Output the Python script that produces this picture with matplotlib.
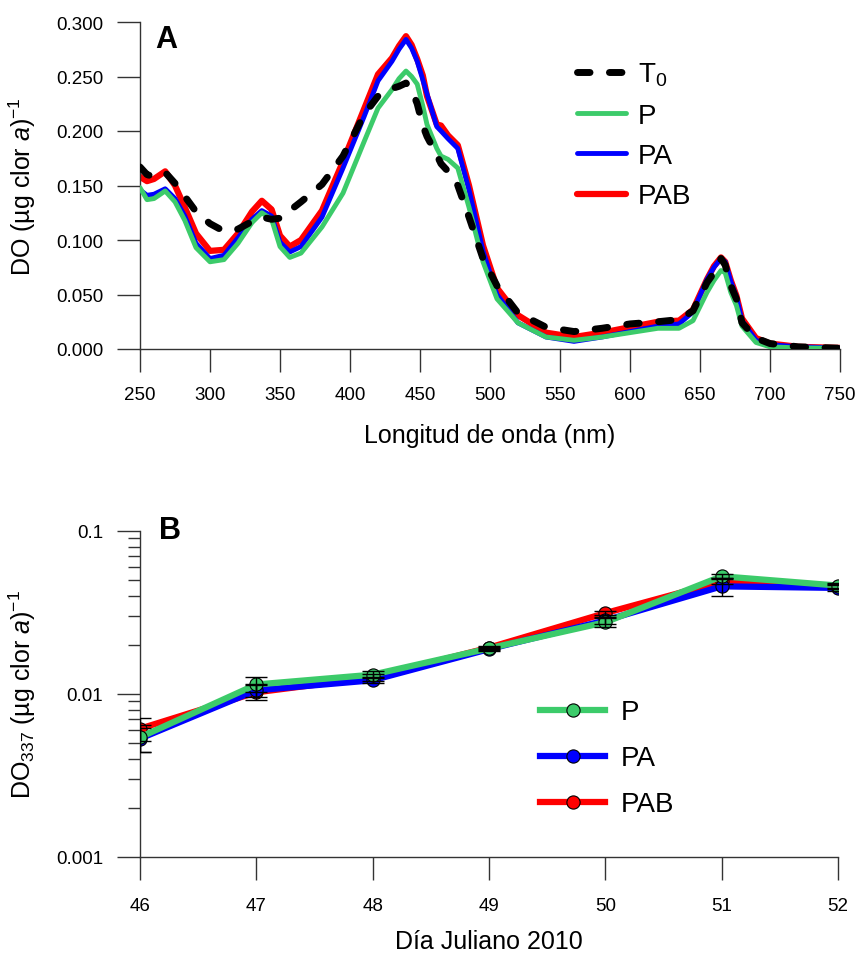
import matplotlib
matplotlib.use('Agg')
import matplotlib.pyplot as plt
from matplotlib.ticker import FixedLocator, LogLocator, NullFormatter

plt.rcParams['font.family'] = ['Liberation Sans', 'DejaVu Sans']
plt.rcParams['mathtext.fontset'] = 'custom'
plt.rcParams['mathtext.rm'] = 'Liberation Sans'
plt.rcParams['mathtext.it'] = 'Liberation Sans:italic'

# Panel A: espectros de absorcion normalizados por clorofila a
wl = [250, 255, 260, 268, 275, 282, 290, 300, 310, 320, 330, 337, 344, 350, 357,
      365, 380, 395, 410, 420, 430, 435, 440, 444, 448, 452, 455, 462, 465, 470, 477,
      485, 495, 505, 520, 540, 560, 580, 600, 620, 635, 645, 655, 660, 665, 668, 672,
      676, 680, 690, 700, 720, 750]

do_t0 = [0.167, 0.160, 0.158, 0.162, 0.152, 0.140, 0.126, 0.115, 0.108, 0.110, 0.117,
         0.121, 0.119, 0.120, 0.127, 0.135, 0.151, 0.177, 0.215, 0.232, 0.239, 0.241,
         0.244, 0.238, 0.225, 0.205, 0.195, 0.178, 0.170, 0.163, 0.150, 0.121, 0.083,
         0.058, 0.033, 0.020, 0.016, 0.019, 0.023, 0.025, 0.027, 0.035, 0.061, 0.070,
         0.083, 0.077, 0.058, 0.046, 0.024, 0.010, 0.005, 0.002, 0.0007]
do_p = [0.148, 0.137, 0.138, 0.145, 0.135, 0.118, 0.093, 0.080, 0.082, 0.097, 0.116,
        0.125, 0.119, 0.094, 0.084, 0.088, 0.112, 0.143, 0.190, 0.221, 0.238, 0.248,
        0.255, 0.250, 0.243, 0.223, 0.206, 0.184, 0.177, 0.174, 0.166, 0.130, 0.080,
        0.046, 0.024, 0.011, 0.008, 0.011, 0.015, 0.019, 0.019, 0.026, 0.052, 0.063,
        0.072, 0.070, 0.052, 0.040, 0.021, 0.006, 0.002, 0.001, 0.0007]
do_pa = [0.146, 0.141, 0.142, 0.147, 0.138, 0.122, 0.097, 0.083, 0.086, 0.102, 0.119,
         0.127, 0.122, 0.098, 0.089, 0.094, 0.121, 0.166, 0.213, 0.246, 0.264, 0.275,
         0.284, 0.276, 0.264, 0.247, 0.234, 0.204, 0.200, 0.193, 0.184, 0.146, 0.090,
         0.050, 0.024, 0.011, 0.007, 0.011, 0.016, 0.021, 0.023, 0.034, 0.064, 0.075,
         0.083, 0.080, 0.062, 0.048, 0.026, 0.008, 0.004, 0.002, 0.001]
do_pab = [0.158, 0.154, 0.156, 0.163, 0.150, 0.130, 0.106, 0.090, 0.091, 0.106, 0.126,
          0.136, 0.128, 0.104, 0.094, 0.100, 0.127, 0.172, 0.220, 0.252, 0.267, 0.278,
          0.287, 0.279, 0.266, 0.251, 0.232, 0.206, 0.205, 0.196, 0.187, 0.150, 0.095,
          0.056, 0.031, 0.015, 0.011, 0.015, 0.020, 0.025, 0.026, 0.036, 0.064, 0.076,
          0.084, 0.080, 0.063, 0.049, 0.028, 0.010, 0.005, 0.002, 0.001]

# Panel B: DO337 a lo largo del experimento
dias = [46, 47, 48, 49, 50, 51, 52]
b_p = [0.0054, 0.0114, 0.0131, 0.0190, 0.0275, 0.0527, 0.0462]
b_p_err = [0.0010, 0.0012, 0.0006, 0.0004, 0.0018, 0.0015, 0.0015]
b_pa = [0.0053, 0.0105, 0.0121, 0.0188, 0.0282, 0.0457, 0.0447]
b_pa_err = [0.0009, 0.0010, 0.0005, 0.0004, 0.0015, 0.0057, 0.0020]
b_pab = [0.0061, 0.0102, 0.0126, 0.0192, 0.0313, 0.0490, 0.0455]
b_pab_err = [0.0010, 0.0011, 0.0006, 0.0004, 0.0010, 0.0020, 0.0015]

verde = '#3ccb6a'
azul = '#0000ff'
rojo = '#ff0000'
gris = '#333333'

fig = plt.figure(figsize=(8.58, 9.62), dpi=100)
axA = fig.add_axes([140 / 858, 1 - 350 / 962, 700 / 858, 327 / 962])
axB = fig.add_axes([140 / 858, 1 - 857.5 / 962, 698 / 858, 325.5 / 962])


def estilo(ax):
    for s in ['top', 'right']:
        ax.spines[s].set_visible(False)
    for s in ['left', 'bottom']:
        ax.spines[s].set_color(gris)
        ax.spines[s].set_linewidth(1.0)
    ax.tick_params(which='major', direction='out', length=16.5, width=1.0,
                   color=gris, labelsize=13.5, pad=10)
    ax.tick_params(which='minor', direction='out', length=8.5, width=1.0, color=gris)


# ---- A ----
axA.plot(wl, do_pab, color=rojo, lw=4.5, solid_capstyle='round', solid_joinstyle='round',
         label='PAB', zorder=2)
axA.plot(wl, do_pa, color=azul, lw=3.5, solid_capstyle='round', solid_joinstyle='round',
         label='PA', zorder=3)
axA.plot(wl, do_p, color=verde, lw=3.5, solid_capstyle='round', solid_joinstyle='round',
         label='P', zorder=4)
axA.plot(wl, do_t0, color='black', lw=5, dashes=(1.8, 2.8), dash_capstyle='round',
         label='T$_0$', zorder=5)
axA.set_xlim(250, 750)
axA.set_ylim(0, 0.3)
estilo(axA)
axA.xaxis.set_major_locator(FixedLocator(list(range(250, 751, 50))))
axA.yaxis.set_major_locator(FixedLocator([0, 0.05, 0.1, 0.15, 0.2, 0.25, 0.3]))
axA.set_yticklabels(['%.3f' % v for v in [0, 0.05, 0.1, 0.15, 0.2, 0.25, 0.3]])
axA.set_xlabel('Longitud de onda (nm)', fontsize=18)
axA.set_ylabel('DO (µg clor $a$)$^{-1}$', fontsize=18)
axA.xaxis.set_label_coords(0.5, -0.225)
axA.yaxis.set_label_coords(-0.146, 0.5)
axA.text(0.037, 0.948, 'A', transform=axA.transAxes, fontsize=22, fontweight='bold',
         ha='center', va='center')
h, l = axA.get_legend_handles_labels()
orden = [3, 2, 1, 0]
axA.legend([h[i] for i in orden], [l[i] for i in orden], loc='center left',
           bbox_to_anchor=(577 / 858, 1 - 136 / 962), bbox_transform=fig.transFigure,
           frameon=False, fontsize=20, handlelength=1.75, handletextpad=0.45,
           labelspacing=0.52, borderpad=0, borderaxespad=0)

# ---- B ----
series = [(b_pab, b_pab_err, rojo, 'PAB'), (b_pa, b_pa_err, azul, 'PA'), (b_p, b_p_err, verde, 'P')]
lineas = {}
for i, (v, e, c, nom) in enumerate(series):
    ln, = axB.plot(dias, v, color=c, lw=4.5, marker='o', markersize=9.5,
                   markerfacecolor=c, markeredgecolor='black', markeredgewidth=0.8,
                   label=nom, zorder=2 + i)
    lineas[nom] = ln
for i, (v, e, c, nom) in enumerate(series):
    axB.errorbar(dias, v, yerr=e, fmt='none', ecolor='black', elinewidth=1.0,
                 capsize=8, capthick=1.0, zorder=6)
axB.set_yscale('log')
axB.set_xlim(46, 52)
axB.set_ylim(0.001, 0.1)
estilo(axB)
axB.tick_params(axis='x', pad=13)
axB.xaxis.set_major_locator(FixedLocator(dias))
axB.yaxis.set_major_locator(FixedLocator([0.001, 0.01, 0.1]))
axB.yaxis.set_minor_locator(LogLocator(base=10, subs=range(2, 10)))
axB.yaxis.set_minor_formatter(NullFormatter())
axB.set_yticklabels(['0.001', '0.01', '0.1'])
axB.set_xlabel('Día Juliano 2010', fontsize=18)
axB.set_ylabel('DO$_{337}$ (µg clor $a$)$^{-1}$', fontsize=18)
axB.xaxis.set_label_coords(0.5, -0.222)
axB.yaxis.set_label_coords(-0.146, 0.5)
axB.text(0.043, 1.003, 'B', transform=axB.transAxes, fontsize=22, fontweight='bold',
         ha='center', va='center')
axB.legend([lineas['P'], lineas['PA'], lineas['PAB']], ['P', 'PA', 'PAB'], loc='center left',
           bbox_to_anchor=(540 / 858, 1 - 759.5 / 962), bbox_transform=fig.transFigure,
           frameon=False, fontsize=20, handlelength=2.35, handletextpad=0.55,
           labelspacing=0.72, borderpad=0, borderaxespad=0)

fig.savefig('out.png', dpi=100)
